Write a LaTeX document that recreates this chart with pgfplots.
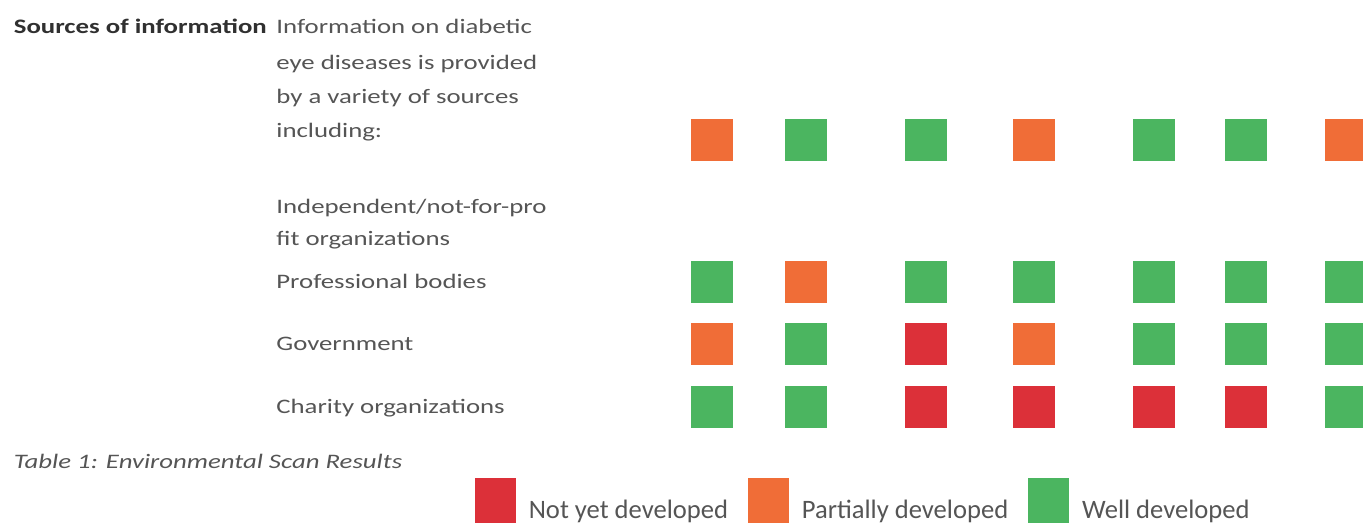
\documentclass[border=0pt]{standalone}
\usepackage{fontspec}
\setmainfont{Carlito}
\newfontfamily\stretchfont{Carlito}[FakeStretch=1.3]
\usepackage{pgfplots}
\pgfplotsset{compat=1.18}
\definecolor{cRed}{HTML}{DC3039}
\definecolor{cOrange}{HTML}{F06D37}
\definecolor{cGreen}{HTML}{4BB560}
\definecolor{txt}{HTML}{555555}
\definecolor{txtdark}{HTML}{303030}
\newcommand{\lefttext}{\stretchfont\fontsize{10.3pt}{12pt}\selectfont}
\begin{document}
\begin{tikzpicture}
\begin{axis}[
  scale only axis, width=681.5pt, height=262pt,
  xmin=0, xmax=1363, ymin=0, ymax=524, y dir=reverse,
  hide axis, clip=false,
  legend columns=3,
  legend style={at={(axis cs:475,523)}, anchor=south west, draw=none, fill=none,
    inner sep=0pt, outer sep=0pt, font=\fontsize{13.3pt}{15pt}\selectfont, text=txt,
    /tikz/every even column/.append style={column sep=10pt},
    /tikz/every odd column/.append style={column sep=6.5pt},
    nodes={inner sep=0pt, outer sep=0pt}},
]
\addplot[only marks, color=cRed, mark=square*, mark size=10.25pt, mark options={fill=cRed, draw=cRed, line width=0pt},
  legend image code/.code={\fill[cRed] (0pt,-6pt) rectangle (20pt,16pt);}]
  coordinates {(925.5,344) (925.5,406.5) (1033.5,406.5) (1153.5,406.5) (1245.5,406.5)};
\addlegendentry{Not yet developed}
\addplot[only marks, color=cOrange, mark=square*, mark size=10.25pt, mark options={fill=cOrange, draw=cOrange, line width=0pt},
  legend image code/.code={\fill[cOrange] (0pt,-6pt) rectangle (20pt,16pt);}]
  coordinates {(711.5,140) (1033.5,140) (1345.5,140) (805.5,282) (711.5,344) (1033.5,344)};
\addlegendentry{Partially developed}
\addplot[only marks, color=cGreen, mark=square*, mark size=10.25pt, mark options={fill=cGreen, draw=cGreen, line width=0pt},
  legend image code/.code={\fill[cGreen] (0pt,-6pt) rectangle (20pt,16pt);}]
  coordinates {(805.5,140) (925.5,140) (1153.5,140) (1245.5,140)
    (711.5,282) (925.5,282) (1033.5,282) (1153.5,282) (1245.5,282) (1345.5,282)
    (805.5,344) (1153.5,344) (1245.5,344) (1345.5,344)
    (711.5,406.5) (805.5,406.5) (1345.5,406.5)};
\addlegendentry{Well developed}
\node[anchor=base west, inner sep=0pt, text=txtdark, font=\lefttext\bfseries] at (axis cs:13.5,34) {Sources of information};
\node[anchor=base west, inner sep=0pt, text=txt, font=\lefttext] at (axis cs:276,34) {Information on diabetic};
\node[anchor=base west, inner sep=0pt, text=txt, font=\lefttext] at (axis cs:276,70) {eye diseases is provided};
\node[anchor=base west, inner sep=0pt, text=txt, font=\lefttext] at (axis cs:276,104) {by a variety of sources};
\node[anchor=base west, inner sep=0pt, text=txt, font=\lefttext] at (axis cs:276,137) {including:};
\node[anchor=base west, inner sep=0pt, text=txt, font=\lefttext] at (axis cs:276,213) {Independent/not-for-pro};
\node[anchor=base west, inner sep=0pt, text=txt, font=\lefttext] at (axis cs:276,245) {fit organizations};
\node[anchor=base west, inner sep=0pt, text=txt, font=\lefttext] at (axis cs:276,288) {Professional bodies};
\node[anchor=base west, inner sep=0pt, text=txt, font=\lefttext] at (axis cs:276,350) {Government};
\node[anchor=base west, inner sep=0pt, text=txt, font=\lefttext] at (axis cs:276,413) {Charity organizations};
\node[anchor=base west, inner sep=0pt, text=txt, font=\lefttext\itshape] at (axis cs:13.5,468) {Table 1: Environmental Scan Results};
\end{axis}
\pgfresetboundingbox
\path (current axis.south west) rectangle (current axis.north east);
\end{tikzpicture}
\end{document}
